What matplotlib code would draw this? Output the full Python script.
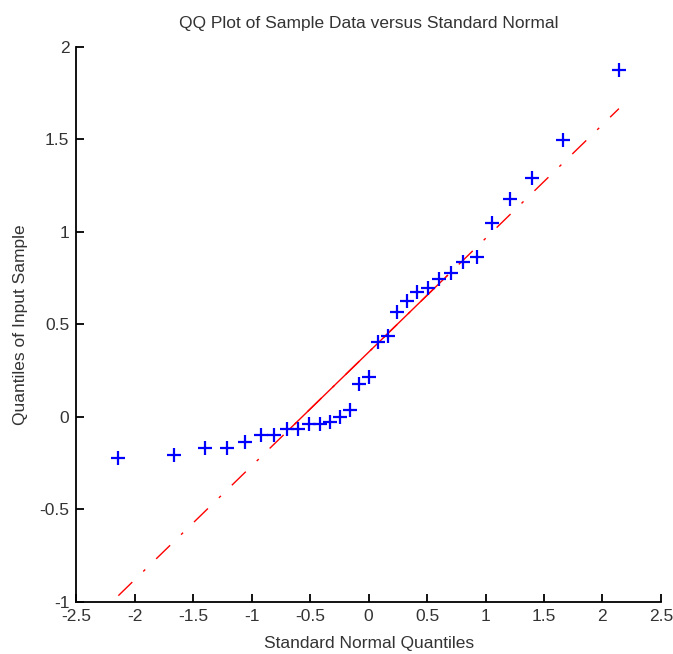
import matplotlib
matplotlib.use("Agg")
import matplotlib.pyplot as plt

plt.rcParams['font.family'] = ['Liberation Sans', 'DejaVu Sans']

# Standard normal quantiles (x) and sample quantiles (y)
normal_quantiles = [-2.141, -1.661, -1.401, -1.208, -1.054, -0.924, -0.807, -0.701,
                    -0.602, -0.508, -0.417, -0.330, -0.245, -0.162, -0.081, 0.0,
                    0.081, 0.162, 0.245, 0.330, 0.417, 0.508, 0.602, 0.701,
                    0.807, 0.924, 1.054, 1.208, 1.401, 1.661, 2.141]
sample_quantiles = [-0.220, -0.205, -0.169, -0.169, -0.134, -0.099, -0.099, -0.064,
                    -0.064, -0.039, -0.039, -0.025, -0.002, 0.038, 0.178, 0.218,
                    0.404, 0.439, 0.569, 0.627, 0.674, 0.696, 0.746, 0.777,
                    0.836, 0.866, 1.047, 1.178, 1.290, 1.494, 1.876]

# Reference line (through the quartiles)
ref_slope = 0.6145
ref_intercept = 0.35
quartile_x = [-0.674, 0.674]

x_ticks = [-2.5, -2, -1.5, -1, -0.5, 0, 0.5, 1, 1.5, 2, 2.5]
x_tick_labels = ['-2.5', '-2', '-1.5', '-1', '-0.5', '0', '0.5', '1', '1.5', '2', '2.5']
y_ticks = [-1, -0.5, 0, 0.5, 1, 1.5, 2]
y_tick_labels = ['-1', '-0.5', '0', '0.5', '1', '1.5', '2']

fig = plt.figure(figsize=(6.73, 6.54), dpi=100)
ax = fig.add_axes([0.1135, 0.0795, 0.8685, 0.849])

xmin, xmax = min(normal_quantiles), max(normal_quantiles)
# dash-dot extension over full range
full_x = [xmin, xmax]
full_y = [ref_intercept + ref_slope * v for v in full_x]
ax.plot(full_x, full_y, color='red', lw=1.0, linestyle=(0, (14, 11, 2, 11)))
# solid part between quartiles
mid_y = [ref_intercept + ref_slope * v for v in quartile_x]
ax.plot(quartile_x, mid_y, color='red', lw=1.0)

ax.plot(normal_quantiles, sample_quantiles, linestyle='none', marker='+',
        color='blue', markersize=10, markeredgewidth=1.6)

ax.set_xlim(-2.5, 2.5)
ax.set_ylim(-1, 2)
ax.set_xticks(x_ticks)
ax.set_xticklabels(x_tick_labels)
ax.set_yticks(y_ticks)
ax.set_yticklabels(y_tick_labels)

for s in ['top', 'right']:
    ax.spines[s].set_visible(False)
for s in ['left', 'bottom']:
    ax.spines[s].set_linewidth(1.3)

ax.tick_params(direction='in', length=6, width=1.3, labelsize=12.5, colors='black',
               labelcolor='#333333')
ax.tick_params(axis='x', pad=5)
ax.tick_params(axis='y', pad=5)

ax.set_title('QQ Plot of Sample Data versus Standard Normal', fontsize=12.5,
             color='#333333', pad=13.5)
ax.set_xlabel('Standard Normal Quantiles', fontsize=12.5, color='#333333', labelpad=9)
ax.set_ylabel('Quantiles of Input Sample', fontsize=12.5, color='#333333', labelpad=8)

fig.savefig('out.png', dpi=100, facecolor='white')
